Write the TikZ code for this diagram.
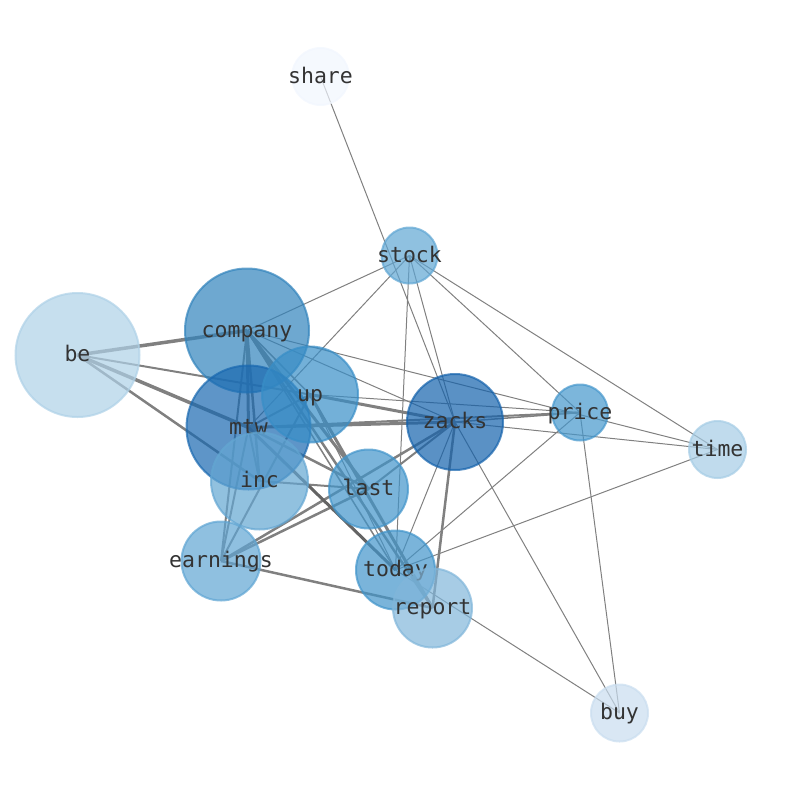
\documentclass[tikz,border=0pt]{standalone}
\usepackage{fontspec}
\newfontfamily\labfont{DejaVu Sans Mono}
\pgfdeclarelayer{edges}
\pgfsetlayers{edges,main}
\definecolor{labc}{RGB}{51,51,51}
\definecolor{edgec}{RGB}{128,128,128}
\definecolor{edgedk}{RGB}{100,100,100}
\definecolor{cbe}{RGB}{174,209,231}
\definecolor{ccompany}{RGB}{49,131,188}
\definecolor{cmtw}{RGB}{25,104,176}
\definecolor{czacks}{RGB}{20,98,172}
\definecolor{cup}{RGB}{56,142,199}
\definecolor{cinc}{RGB}{99,166,210}
\definecolor{clast}{RGB}{65,148,202}
\definecolor{cearnings}{RGB}{95,165,211}
\definecolor{ctoday}{RGB}{65,148,202}
\definecolor{creport}{RGB}{129,182,218}
\definecolor{cstock}{RGB}{95,166,211}
\definecolor{cprice}{RGB}{69,151,204}
\definecolor{ctime}{RGB}{165,204,229}
\definecolor{cbuy}{RGB}{201,221,239}
\definecolor{cshare}{RGB}{241,246,254}
\newcommand{\lbl}[1]{\makebox[0pt][c]{#1}}
\begin{document}
\begin{tikzpicture}[x=1pt,y=-1pt,
  nd/.style={circle, inner sep=0pt, outer sep=0pt, fill=#1, draw=#1,
    fill opacity=0.7, draw opacity=0.7, text opacity=1, line width=2pt,
    text=labc, font=\labfont\fontsize{21.5}{26}\selectfont,
    text height=17pt, text depth=4pt},
  edge/.style={draw=edgec, line cap=butt}]
\useasboundingbox (0,0) rectangle (794,790);
\node[nd=cbe, minimum size=124pt] (be) at (77.5,355) {\lbl{be}};
\node[nd=ccompany, minimum size=124pt] (company) at (247,330.5) {\lbl{company}};
\node[nd=cmtw, minimum size=124pt] (mtw) at (248.5,427.5) {\lbl{mtw}};
\node[nd=cup, minimum size=96pt] (up) at (310,394.5) {\lbl{up}};
\node[nd=cinc, minimum size=97pt] (inc) at (259.5,481) {\lbl{inc}};
\node[nd=czacks, minimum size=96pt] (zacks) at (455,422) {\lbl{zacks}};
\node[nd=clast, minimum size=79pt] (last) at (368.5,489) {\lbl{last}};
\node[nd=cearnings, minimum size=79pt] (earnings) at (221,561) {\lbl{earnings}};
\node[nd=ctoday, minimum size=79pt] (today) at (395.5,570) {\lbl{today}};
\node[nd=creport, minimum size=79pt] (report) at (432.5,608) {\lbl{report}};
\node[nd=cstock, minimum size=56pt] (stock) at (409.5,255.5) {\lbl{stock}};
\node[nd=cprice, minimum size=56pt] (price) at (580,412.5) {\lbl{price}};
\node[nd=ctime, minimum size=57pt] (time) at (717.5,449.5) {\lbl{time}};
\node[nd=cbuy, minimum size=57pt] (buy) at (619.5,713) {\lbl{buy}};
\node[nd=cshare, minimum size=57pt] (share) at (320.5,76.5) {\lbl{share}};
\begin{pgfonlayer}{edges}
\foreach \a/\b/\w in {be/company/3.5, be/up/2, be/mtw/3.5, be/inc/2.5,
  company/stock/1, company/time/1, company/zacks/1, company/mtw/3,
  company/inc/2.5, company/up/1.5, company/last/3, company/today/1.5,
  company/report/2.5, company/earnings/2,
  stock/mtw/1, stock/today/1, stock/zacks/1, stock/price/1, stock/time/1,
  share/zacks/1,
  up/mtw/2, up/zacks/3, up/price/1, up/earnings/2, up/today/1, up/report/3,
  mtw/inc/2, mtw/earnings/2, mtw/last/2.5, mtw/zacks/3, mtw/price/2,
  inc/last/2,
  earnings/zacks/2.5, earnings/last/2.5, earnings/report/2.5,
  last/zacks/2,
  zacks/price/1.5, zacks/time/1, zacks/today/1, zacks/report/2.5, zacks/buy/1,
  price/today/1, price/buy/1,
  today/time/1, today/buy/1}
  \draw[edge, line width=\w pt] (\a.center) -- (\b.center);
\draw[edge, draw=edgedk, line width=3pt] (mtw.center) -- (today.center);
\end{pgfonlayer}
\end{tikzpicture}
\end{document}
